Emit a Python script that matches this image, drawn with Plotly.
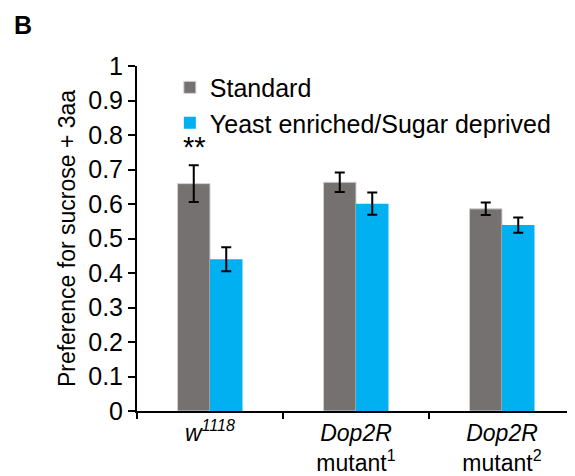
import plotly.graph_objects as go

categories = ["w1118", "Dop2R mutant1", "Dop2R mutant2"]
tick_labels = ["<i>w<sup>1118</sup></i>", "<i>Dop2R</i><br>mutant<sup>1</sup>", "<i>Dop2R</i><br>mutant<sup>2</sup>"]
standard = [0.659, 0.663, 0.586]
standard_err = [0.053, 0.028, 0.018]
yeast = [0.440, 0.601, 0.539]
yeast_err = [0.035, 0.032, 0.022]
y_ticks = [0, 0.1, 0.2, 0.3, 0.4, 0.5, 0.6, 0.7, 0.8, 0.9, 1]
y_tick_labels = ["0", "0.1", "0.2", "0.3", "0.4", "0.5", "0.6", "0.7", "0.8", "0.9", "1"]

FONT = "Arial, Liberation Sans, sans-serif"

fig = go.Figure()
fig.add_trace(go.Bar(
    x=categories, y=standard, name="Standard",
    marker=dict(color="#767171", line=dict(color="#D0D0D0", width=1)),
    error_y=dict(type="data", array=standard_err, color="black", thickness=2, width=5),
))
fig.add_trace(go.Bar(
    x=categories, y=yeast, name="Yeast enriched/Sugar deprived",
    marker=dict(color="#00B0F0", line=dict(color="#00B0F0", width=0)),
    error_y=dict(type="data", array=yeast_err, color="black", thickness=2, width=5),
))

# page has an 8px body margin, so the figure is drawn 8px in from the top-left
fig.update_layout(
    width=567, height=468,
    margin=dict(l=129, r=0, t=58, b=59),
    plot_bgcolor="white", paper_bgcolor="white",
    barmode="group", bargap=0.555, bargroupgap=0,
    font=dict(family=FONT, color="black", size=23),
    showlegend=True,
    legend=dict(x=0.075, y=1.004, xanchor="left", yanchor="top",
                font=dict(size=25, family=FONT), bgcolor="rgba(0,0,0,0)",
                itemwidth=30),
    xaxis=dict(
        tickmode="array", tickvals=categories, ticktext=tick_labels,
        showline=True, linecolor="black", linewidth=2,
        ticks="outside", tickson="boundaries", ticklen=6, tickwidth=2, tickcolor="black",
        tickfont=dict(size=23, family=FONT),
        range=[-0.5, 2.5],
    ),
    yaxis=dict(
        range=[0, 1], tickmode="array", tickvals=y_ticks, ticktext=y_tick_labels,
        showline=True, linecolor="black", linewidth=2,
        ticks="outside", ticklen=7, tickwidth=2, tickcolor="black",
        showgrid=False, zeroline=False,
        tickfont=dict(size=25, family=FONT),
        title=dict(text="Preference for sucrose + 3aa", font=dict(size=23, family=FONT), standoff=6),
    ),
)

fig.add_annotation(x=0, y=standard[0] + standard_err[0], xref="x", yref="y", text="**",
                   showarrow=False, xshift=-16, yshift=18,
                   font=dict(size=29, family=FONT))
fig.add_annotation(xref="paper", yref="paper", x=-0.285, y=1.166, xanchor="left", yanchor="top",
                   text="<b>B</b>", showarrow=False, font=dict(size=25, family=FONT))

fig.write_html("out.html")
